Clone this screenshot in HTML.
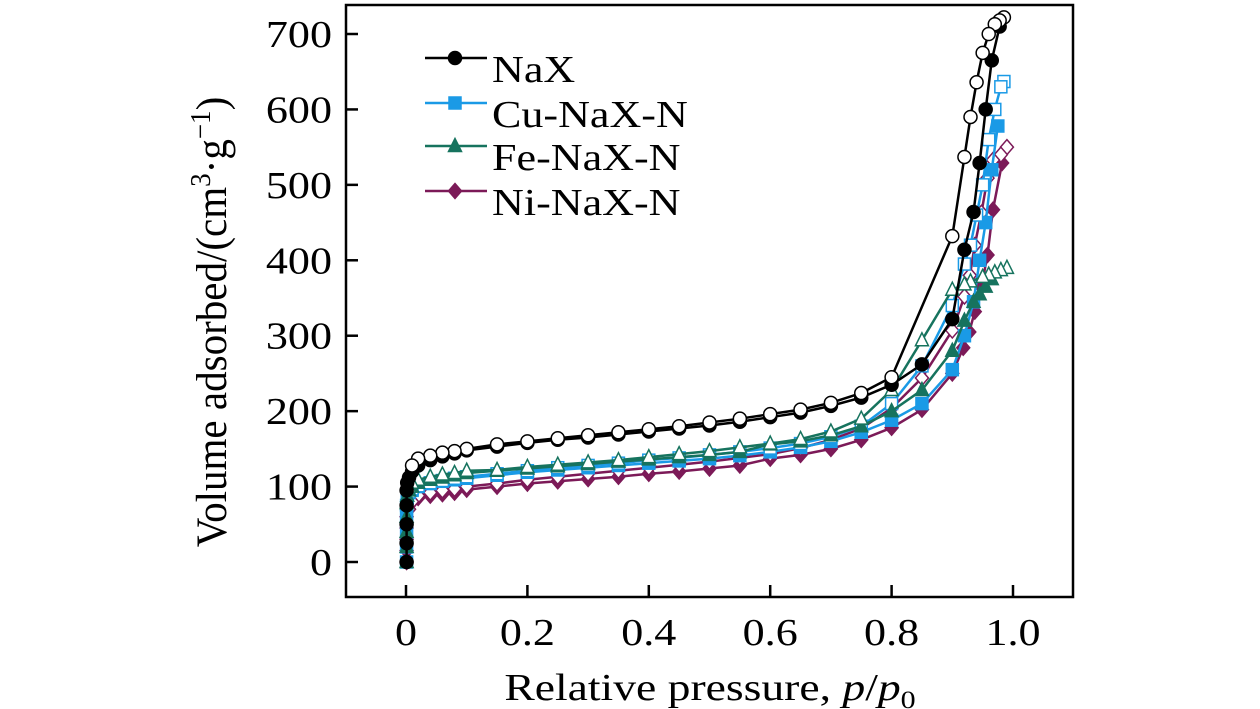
<!DOCTYPE html>
<html><head><meta charset="utf-8"><style>
html,body{margin:0;padding:0;background:#fff;}
svg{display:block;font-family:"Liberation Serif",serif;}
</style></head><body>
<svg id="chart" width="1260" height="709" viewBox="0 0 1260 709"></svg>
<script>
const xTicks=[0,0.2,0.4,0.6,0.8,1.0];
const xTickLabels=["0","0.2","0.4","0.6","0.8","1.0"];
const yTicks=[0,100,200,300,400,500,600,700];
const seriesNames=["NaX","Cu-NaX-N","Fe-NaX-N","Ni-NaX-N"];
const seriesColors=["#000000","#1a9ae6","#16735e","#7c1a58"];
const seriesMarkers=["circle","square","triangle","diamond"];
const lowP=[0.001,0.001,0.001,0.001,0.001,0.002,0.005,0.01,0.02,0.04,0.06,0.08,0.1,0.15,0.2,0.25,0.3,0.35,0.4,0.45,0.5,0.55,0.6,0.65,0.7,0.75,0.8,0.85,0.9];
const naxAdsP=lowP.concat([0.92,0.935,0.945,0.955,0.965,0.978]);
const naxAdsV=[0,25,50,75,95,105,112,120,128,135,140,144,148,153,158,162,165,169,173,177,181,186,192,198,207,218,235,262,322,414,464,529,600,665,710];
const naxDesP=[0.985,0.978,0.97,0.96,0.95,0.94,0.93,0.92,0.9,0.8,0.75,0.7,0.65,0.6,0.55,0.5,0.45,0.4,0.35,0.3,0.25,0.2,0.15,0.1,0.08,0.06,0.04,0.02,0.01];
const naxDesV=[722,718,713,700,675,636,590,537,432,245,224,211,202,196,190,185,180,176,172,168,164,160,156,150,147,145,141,137,128];
const cuAdsP=lowP.concat([0.92,0.935,0.945,0.955,0.965,0.975]);
const cuAdsV=[0,20,40,60,75,85,92,95,100,104,107,109,111,115,119,122,125,128,131,134,137,141,146,152,160,172,188,210,255,300,345,400,450,520,578];
const cuDesP=[0.985,0.98,0.97,0.96,0.95,0.94,0.93,0.92,0.9,0.85,0.8,0.75,0.7,0.65,0.6,0.55,0.5,0.45,0.4,0.35,0.3,0.25,0.2,0.15,0.1,0.08,0.06,0.04,0.02,0.01,0.005];
const cuDesV=[637,630,600,560,500,460,420,395,340,260,210,180,166,157,151,146,142,138,135,131,128,125,121,117,113,111,108,105,101,97,93];
const feAdsP=lowP.concat([0.92,0.935,0.945,0.955,0.965]);
const feAdsV=[0,20,40,60,78,88,95,100,105,109,112,115,118,121,124,127,130,133,136,139,142,146,156,160,168,180,200,228,280,320,345,355,365,375];
const feDesP=[0.99,0.98,0.97,0.96,0.95,0.93,0.92,0.9,0.85,0.8,0.75,0.7,0.65,0.6,0.55,0.5,0.45,0.4,0.35,0.3,0.25,0.2,0.15,0.1,0.08,0.06,0.04,0.02,0.01,0.005];
const feDesV=[390,387,384,381,378,372,368,361,294,228,190,173,163,157,152,147,143,139,135,132,129,126,122,121,118,116,113,109,105,100];
const niAdsP=lowP.concat([0.918,0.928,0.937,0.948,0.958,0.967,0.982]);
const niAdsV=[0,15,30,45,60,68,75,80,85,88,90,92,96,100,104,107,110,113,117,120,124,128,137,142,150,162,178,202,250,284,305,332,365,407,467,529];
const niDesP=[0.99,0.98,0.967,0.958,0.948,0.937,0.929,0.92,0.9,0.85,0.8,0.75,0.7,0.65,0.6,0.55,0.5,0.45,0.4,0.35,0.3,0.25,0.2,0.15,0.1,0.08,0.06,0.04,0.02,0.01,0.005];
const niDesV=[550,540,533,509,463,420,380,352,307,244,204,177,162,151,143,138,133,129,125,121,117,113,109,104,100,97,95,92,88,80,70];

const NS="http://www.w3.org/2000/svg";
const svg=document.getElementById('chart');
const X0=406,X1=1013,Y0=562,Y700=34;
const xs=v=>X0+(X1-X0)*v;
const ys=v=>Y0-(Y0-Y700)*v/700;
const SX=1.16;
function mk(tag,attrs,parent){const e=document.createElementNS(NS,tag);for(const k in attrs)e.setAttribute(k,attrs[k]);(parent||svg).appendChild(e);return e;}
function txt(x,y,size,anchor,parent){return mk('text',{x:0,y:0,'font-size':size,'text-anchor':anchor,transform:`translate(${x},${y}) scale(${SX},1)`},parent);}

const frame=mk('rect',{x:346,y:5,width:727,height:592,fill:'none',stroke:'#000','stroke-width':2.5});



xTicks.forEach((t,i)=>{
  const l=mk('line',{x1:xs(t),x2:xs(t),y1:597,y2:585,stroke:'#000','stroke-width':2.5});
  
  
  const tx=txt(xs(t),645,38,'middle');
  tx.textContent=xTickLabels[i];
  
  
});
yTicks.forEach(t=>{
  const l=mk('line',{x1:346,x2:358,y1:ys(t),y2:ys(t),stroke:'#000','stroke-width':2.5});
  
  
  const tx=txt(332,ys(t)+13,38,'end');
  tx.textContent=String(t);
  
  
});

function marker(type,cx,cy,color,filled,parent){
  const f=filled?color:'#fff';const r=6.5;let e;
  if(type==='circle')e=mk('circle',{cx,cy,r,fill:f,stroke:color,'stroke-width':1.5},parent);
  else if(type==='square')e=mk('rect',{x:cx-r+0.5,y:cy-r+0.5,width:2*r-1,height:2*r-1,fill:f,stroke:color,'stroke-width':1.5},parent);
  else if(type==='triangle')e=mk('polygon',{points:`${cx},${cy-r-1} ${cx-r},${cy+r-1} ${cx+r},${cy+r-1}`,fill:f,stroke:color,'stroke-width':1.5},parent);
  else e=mk('polygon',{points:`${cx},${cy-r-1} ${cx+r},${cy} ${cx},${cy+r+1} ${cx-r},${cy}`,fill:f,stroke:color,'stroke-width':1.5},parent);
  return e;
}
const allData=[[naxAdsP,naxAdsV,naxDesP,naxDesV],[cuAdsP,cuAdsV,cuDesP,cuDesV],[feAdsP,feAdsV,feDesP,feDesV],[niAdsP,niAdsV,niDesP,niDesV]];
const order=[3,1,2,0];
order.forEach(i=>{
  const [aP,aV,dP,dV]=allData[i];const c=seriesColors[i];
  const g=mk('g',{});
  
  
  const la=mk('polyline',{points:aP.map((p,k)=>xs(p)+','+ys(aV[k])).join(' '),fill:'none',stroke:c,'stroke-width':2.5},g);
  
  
  const ld=mk('polyline',{points:dP.map((p,k)=>xs(p)+','+ys(dV[k])).join(' '),fill:'none',stroke:c,'stroke-width':2.5},g);
  
  
  aP.forEach((p,k)=>{const m=marker(seriesMarkers[i],xs(p),ys(aV[k]),c,true,g);
    
    });
  dP.forEach((p,k)=>{const m=marker(seriesMarkers[i],xs(p),ys(dV[k]),c,false,g);
    
    });
});

const legLineY=[58,103,146,191];
seriesNames.forEach((n,i)=>{
  const g=mk('g',{});
  
  
  mk('line',{x1:425,x2:487,y1:legLineY[i],y2:legLineY[i],stroke:seriesColors[i],'stroke-width':2.5},g);
  marker(seriesMarkers[i],455,legLineY[i],seriesColors[i],true,g);
  const t=txt(492,legLineY[i]+24,38,'start',g);
  t.textContent=n;
});

const xt=mk('text',{x:0,y:0,'font-size':38,'text-anchor':'middle',transform:'translate(710,700) scale(1.2,1)'});
xt.innerHTML='Relative pressure, <tspan font-style="italic">p</tspan>/<tspan font-style="italic">p</tspan><tspan font-size="25" dy="8">0</tspan>';


const yt=mk('text',{x:0,y:0,'font-size':38,'text-anchor':'middle',transform:'translate(226,322) rotate(-90) scale(1.08,1.15)'});
yt.innerHTML='Volume adsorbed/(cm<tspan font-size="25" dy="-14">3</tspan><tspan dy="14">·g</tspan><tspan font-size="25" dy="-14">−1</tspan><tspan dy="14">)</tspan>';


</script>
</body></html>
